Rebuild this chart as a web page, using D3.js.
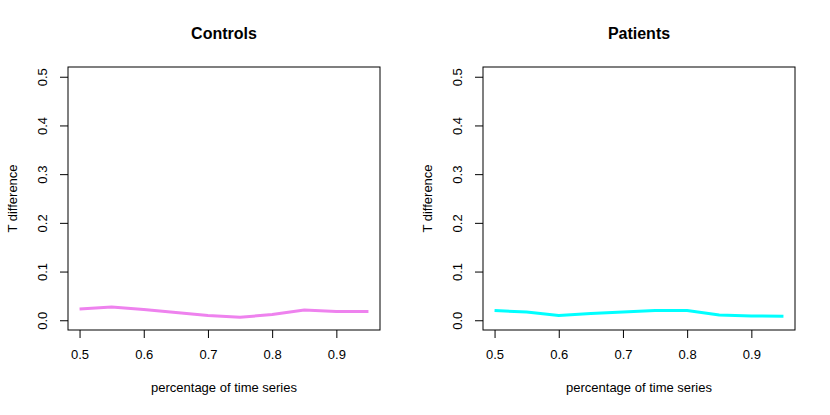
<!DOCTYPE html>
<html>
<head>
<meta charset="utf-8">
<script src="https://cdn.jsdelivr.net/npm/d3@7"></script>
<style>
  body { margin: 0; background: #fff; }
  svg text { font-family: "Liberation Sans", Arial, sans-serif; fill: #000; }
</style>
</head>
<body>
<div id="chart"></div>
<script>
// share of the time series used
var pct = [0.5, 0.55, 0.6, 0.65, 0.7, 0.75, 0.8, 0.85, 0.9, 0.95];
// T difference
var controls = [0.023, 0.027, 0.022, 0.016, 0.010, 0.006, 0.012, 0.021, 0.018, 0.018];
var patients = [0.020, 0.017, 0.010, 0.014, 0.017, 0.020, 0.020, 0.011, 0.009, 0.008];
var xTicks = [0.5, 0.6, 0.7, 0.8, 0.9];
var yTicks = [0, 0.1, 0.2, 0.3, 0.4, 0.5];

var W = 830, H = 415;
var svg = d3.select("#chart").append("svg")
  .attr("width", W).attr("height", H);

// R style: axis range padded 4% each side
function padded(lo, hi) {
  var d = (hi - lo) * 0.04;
  return [lo - d, hi + d];
}

function panel(left, title, values, colour) {
  var top = 67, bottom = 330, right = left + 312;
  var x = d3.scaleLinear().domain(padded(0.5, 0.95)).range([left, right]);
  var y = d3.scaleLinear().domain(padded(0, 0.5)).range([bottom, top]);

  var g = svg.append("g");

  g.append("text")
    .attr("x", (left + right) / 2).attr("y", 39)
    .attr("text-anchor", "middle")
    .style("font-size", "16px").style("font-weight", "bold")
    .text(title);

  g.append("rect")
    .attr("x", left).attr("y", top)
    .attr("width", right - left).attr("height", bottom - top)
    .attr("fill", "none").attr("stroke", "#000").attr("stroke-width", 1);

  var xa = g.append("g")
    .attr("transform", "translate(0," + bottom + ")")
    .call(d3.axisBottom(x).tickValues(xTicks).tickSize(8).tickPadding(12)
      .tickFormat(d3.format(".1f")));
  xa.select(".domain").remove();
  xa.selectAll(".tick text").style("font-size", "13px").attr("fill", "#000");

  var ya = g.append("g")
    .attr("transform", "translate(" + left + ",0)")
    .call(d3.axisLeft(y).tickValues(yTicks).tickSize(8)
      .tickFormat(d3.format(".1f")));
  ya.select(".domain").remove();
  ya.selectAll(".tick text")
    .attr("x", 0).attr("y", 0).attr("dy", 0)
    .attr("transform", "translate(-21,0) rotate(-90)")
    .attr("text-anchor", "middle")
    .style("font-size", "13px")
    .attr("fill", "#000");

  g.append("text")
    .attr("x", (left + right) / 2).attr("y", 392)
    .attr("text-anchor", "middle").style("font-size", "13px")
    .text("percentage of time series");

  g.append("text")
    .attr("transform", "translate(" + (left - 51) + "," + ((top + bottom) / 2) + ") rotate(-90)")
    .attr("text-anchor", "middle").style("font-size", "13px")
    .text("T difference");

  var line = d3.line()
    .x(function(d, i) { return x(pct[i]); })
    .y(function(d) { return y(d); });

  g.append("path")
    .datum(values)
    .attr("d", line)
    .attr("fill", "none")
    .attr("stroke", colour)
    .attr("stroke-width", 3);
}

panel(68, "Controls", controls, "violet");
panel(483, "Patients", patients, "cyan");
</script>
</body>
</html>
